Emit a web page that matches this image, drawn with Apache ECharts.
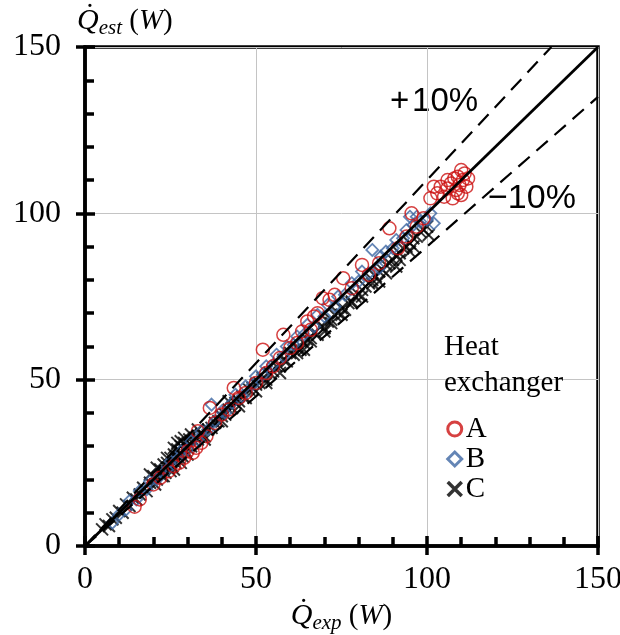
<!DOCTYPE html>
<html>
<head>
<meta charset="utf-8">
<script src="https://cdn.jsdelivr.net/npm/echarts@6/dist/echarts.min.js"></script>
<style>
  html, body { margin: 0; padding: 0; background: #fff; }
  #chart { width: 620px; height: 635px; }
</style>
</head>
<body>
<div id="chart"></div>
<script>
// Measured vs. estimated heat transfer rate, three heat exchangers, [Q_exp, Q_est] in W
const seriesA = [
  [14.5, 11.8], [16, 14], [20, 18.5], [22, 20.5], [24.5, 22.5], [26, 24], [27.5, 25],
  [29, 26.5], [30, 28.5], [31.5, 28], [32.5, 29.5], [34, 31], [33, 34.5], [35.5, 33],
  [36.5, 41.5], [38, 37], [40, 39.5], [42, 41], [43.5, 47.5], [45, 44.5], [47, 46],
  [50, 49], [52, 59], [53, 52], [55, 54], [57, 56.5], [58, 63.5], [60, 59.5], [62, 61],
  [63.5, 64.5], [65, 67.5], [66, 65], [67, 69], [68, 70], [69.5, 74.5], [71.5, 74],
  [73, 75.5], [75.5, 80.5], [78, 77.5], [81, 84.5], [83, 81.5], [86, 85], [89, 95.5],
  [91.5, 89.5], [94, 93], [95.5, 100], [97, 96], [99, 98.5],
  [101, 104.5], [103, 106], [104, 108], [105, 105], [106, 107.5], [107, 109], [107.5, 104.5],
  [108, 110.5], [108.5, 107], [109, 111], [109.5, 108.5], [110, 105.5], [110.5, 110],
  [111, 112], [111.5, 108], [112, 110.5], [106, 110], [109, 106], [102, 108], [110, 113]
];
const seriesB = [
  [8, 7], [10, 9.5], [12, 11], [13, 13.5], [15, 14], [16, 16.5], [18, 17], [19, 19.5],
  [21, 20], [22, 22.5], [24, 23], [25, 25.5], [27, 26], [28, 28.5], [30, 29], [31, 31.5],
  [33, 32], [34, 34.5], [36, 35], [37, 42.5], [38, 37.5], [40, 40.5], [41, 40], [43, 43],
  [44, 45.5], [46, 45], [47, 48], [49, 48.5], [50, 51], [52, 51.5], [53, 54], [55, 54.5],
  [56, 57.5], [58, 57], [59, 60], [61, 60.5], [62, 63], [64, 63.5], [65, 66.5], [67, 66],
  [68, 69.5], [70, 69], [71, 72.5], [73, 72], [74, 75], [76, 75.5], [78, 79], [80, 79.5],
  [81, 82.5], [83, 82], [84, 89], [86, 83.5], [86.5, 87], [88, 88.5], [90, 89.5], [91, 92],
  [93, 92.5], [94, 95], [95, 99], [96, 96.5], [97, 99], [98, 97.5], [100, 98], [101, 100],
  [102, 97]
];
const seriesC = [
  [5, 5], [6, 6.5], [7, 6], [8, 8], [9, 8.5], [10, 10.5], [11, 10], [12, 12.5], [13, 12],
  [14, 14.5], [15, 14], [16, 15.5], [17, 17.5], [18, 16.5], [19, 19], [20, 21], [20.5, 18.5],
  [21, 20], [22, 23], [22.5, 21], [23, 24.5], [23.5, 22], [24, 25], [24.5, 23.5], [25, 26.5],
  [25.5, 24], [26, 27.5], [26.5, 25], [27, 29], [27.5, 26.5], [28, 30], [28.5, 27], [29, 31],
  [29.5, 28.5], [30, 29.5], [30.5, 32], [31, 30], [32, 31.5], [33, 32], [34, 33.5], [35, 33],
  [36, 35], [37, 35.5], [38, 37], [39, 37.5], [40, 39], [41, 39.5], [42, 41], [43, 41.5],
  [44, 43], [45, 43.5], [46, 45], [47, 44.5], [48, 47], [49, 47.5], [50, 48.5], [51, 49],
  [52, 50.5], [53, 50], [54, 52], [55, 52.5], [56, 54], [57, 54], [58, 56], [59, 55.5],
  [60, 58], [61, 57.5], [62, 59.5], [63, 59], [64, 61], [65, 62], [66, 62.5], [67, 64],
  [68, 63.5], [69, 66], [70, 65.5], [71, 67.5], [72, 68], [73, 69.5], [74, 70], [75, 71.5],
  [76, 71], [77, 73], [78, 73.5], [79, 75], [80, 75.5], [81, 77], [82, 78], [83, 79],
  [84, 80], [85, 81], [86, 82.5], [87, 83], [88, 84.5], [89, 85], [90, 86], [91, 87.5],
  [92, 88], [93, 89.5], [94, 90], [95, 91], [96, 92.5], [97, 93], [98, 94.5], [99, 95],
  [100, 96], [100.5, 93.5], [96, 90], [92, 86], [88, 82], [84, 79], [78, 73], [72, 67],
  [66, 61.5], [62, 58], [35, 32], [28, 25], [27, 31], [26, 29.5], [24, 26.5], [29, 32.5],
  [25, 22.5], [23, 21], [30, 27.5], [57, 52], [64, 59], [70, 64.5], [75, 69.5], [81, 75],
  [86, 79.5], [91, 84], [95, 88.5], [45, 42], [50, 46.5], [53, 49], [40, 37.5], [42, 43.5],
  [33, 35], [21, 23.5], [19, 21.5], [31, 33.5], [28, 31.5], [26, 23]
];
// Reference lines: exact agreement and ±10 % bands
const lineExact = [[0, 0], [150, 150]];
const linePlus10 = [[0, 0], [150 / 1.1, 150]];
const lineMinus10 = [[0, 0], [150, 135]];
const axisTicks = { min: 0, max: 150, interval: 50 };

const serif = '"Liberation Serif", "Times New Roman", serif';
const sans = '"Liberation Sans", Arial, sans-serif';
const crossPath = 'path://M0,0L10,10M10,0L0,10';

const nameRich = {
  q: { fontFamily: serif, fontStyle: 'italic', fontSize: 30, color: '#000', lineHeight: 36, verticalAlign: 'middle' },
  s: { fontFamily: serif, fontStyle: 'italic', fontSize: 21, color: '#000', lineHeight: 36, verticalAlign: 'bottom' },
  n: { fontFamily: serif, fontSize: 29, color: '#000', lineHeight: 36, verticalAlign: 'middle' },
  w: { fontFamily: serif, fontStyle: 'italic', fontSize: 29, color: '#000', lineHeight: 36, verticalAlign: 'middle' }
};

function mainAxis(extra) {
  return Object.assign({
    type: 'value',
    min: axisTicks.min,
    max: axisTicks.max,
    interval: axisTicks.interval,
    axisLine: { show: true, lineStyle: { color: '#000', width: 3.5 } },
    axisTick: { show: true, inside: true, length: 10, lineStyle: { color: '#000', width: 3.5 } },
    minorTick: { show: true, splitNumber: 5, length: 9, lineStyle: { color: '#000', width: 3.5 } },
    splitLine: { show: true, lineStyle: { color: '#c4c4c4', width: 1 } },
    minorSplitLine: { show: false }
  }, extra);
}
// overlay axes carrying the outward half of the major ticks
function outerAxis(extra) {
  return Object.assign({
    type: 'value',
    min: axisTicks.min,
    max: axisTicks.max,
    interval: axisTicks.interval,
    axisLine: { show: false },
    axisTick: { show: true, inside: false, length: 9, lineStyle: { color: '#000', width: 3.5 } },
    splitLine: { show: false },
    axisLabel: { show: false }
  }, extra);
}

const chart = echarts.init(document.getElementById('chart'), null, { renderer: 'canvas' });
chart.setOption({
  animation: false,
  backgroundColor: '#fff',
  grid: { left: 85, right: 22, top: 47, bottom: 89, outerBoundsMode: 'none', show: true, borderColor: '#000', borderWidth: 3.5, backgroundColor: 'transparent' },
  title: {
    text: 'Heat\nexchanger',
    left: 439, top: 324,
    textStyle: { fontFamily: serif, fontSize: 29, fontWeight: 'normal', color: '#000', lineHeight: 36 }
  },
  legend: {
    orient: 'vertical',
    left: 441, top: 409,
    itemWidth: 14, itemHeight: 14, itemGap: 0,
    textStyle: { fontFamily: serif, fontSize: 29, lineHeight: 30, color: '#000', padding: [0, 0, 0, -1] },
    data: [
      { name: 'A', itemStyle: { borderWidth: 3 } },
      { name: 'B', itemStyle: { borderWidth: 3 } },
      { name: 'C', itemStyle: { borderWidth: 3.5 } }
    ]
  },
  xAxis: [
    mainAxis({
      position: 'bottom',
      name: '{q|Q̇}{s|exp}{n| (}{w|W}{n|)}',
      nameLocation: 'middle', nameGap: 43,
      nameTextStyle: { rich: nameRich },
      axisLabel: { color: '#000', fontFamily: serif, fontSize: 32, margin: 18 }
    }),
    outerAxis({ position: 'bottom' })
  ],
  yAxis: [
    mainAxis({
      position: 'left',
      name: '{q|Q̇}{s|est}{n| (}{w|W}{n|)}',
      nameLocation: 'end', nameGap: 8,
      nameTextStyle: { rich: nameRich, align: 'left', padding: [0, 0, 0, -8] },
      axisLabel: { color: '#000', fontFamily: serif, fontSize: 32, margin: 24 }
    }),
    outerAxis({ position: 'left' })
  ],
  graphic: [
    { type: 'text', left: 390, top: 85, style: { text: '+\u200A10%', fontFamily: sans, fontSize: 33, fill: '#000' } },
    { type: 'text', left: 488, top: 182, style: { text: '\u221210%', fontFamily: sans, fontSize: 34, fill: '#000' } }
  ],
  series: [
    {
      name: 'C', type: 'scatter', data: seriesC, symbol: crossPath, symbolSize: 12,
      itemStyle: { color: 'rgba(0,0,0,0)', borderColor: '#000', borderWidth: 2 }
    },
    {
      name: 'B', type: 'scatter', data: seriesB, symbol: 'diamond', symbolSize: 12,
      itemStyle: { color: 'rgba(0,0,0,0)', borderColor: '#3d67a3', borderWidth: 1.8 }
    },
    {
      name: 'A', type: 'scatter', data: seriesA, symbol: 'circle', symbolSize: 13,
      itemStyle: { color: 'rgba(0,0,0,0)', borderColor: '#cc1111', borderWidth: 1.5 }
    },
    {
      type: 'line', data: lineExact, showSymbol: false, silent: true,
      lineStyle: { color: '#000', width: 2.8 }, z: 3
    },
    {
      type: 'line', data: linePlus10, showSymbol: false, silent: true,
      lineStyle: { color: '#000', width: 2.2, type: [15, 9] }, z: 3
    },
    {
      type: 'line', data: lineMinus10, showSymbol: false, silent: true,
      lineStyle: { color: '#000', width: 2.2, type: [15, 9] }, z: 3
    }
  ]
});
</script>
</body>
</html>
